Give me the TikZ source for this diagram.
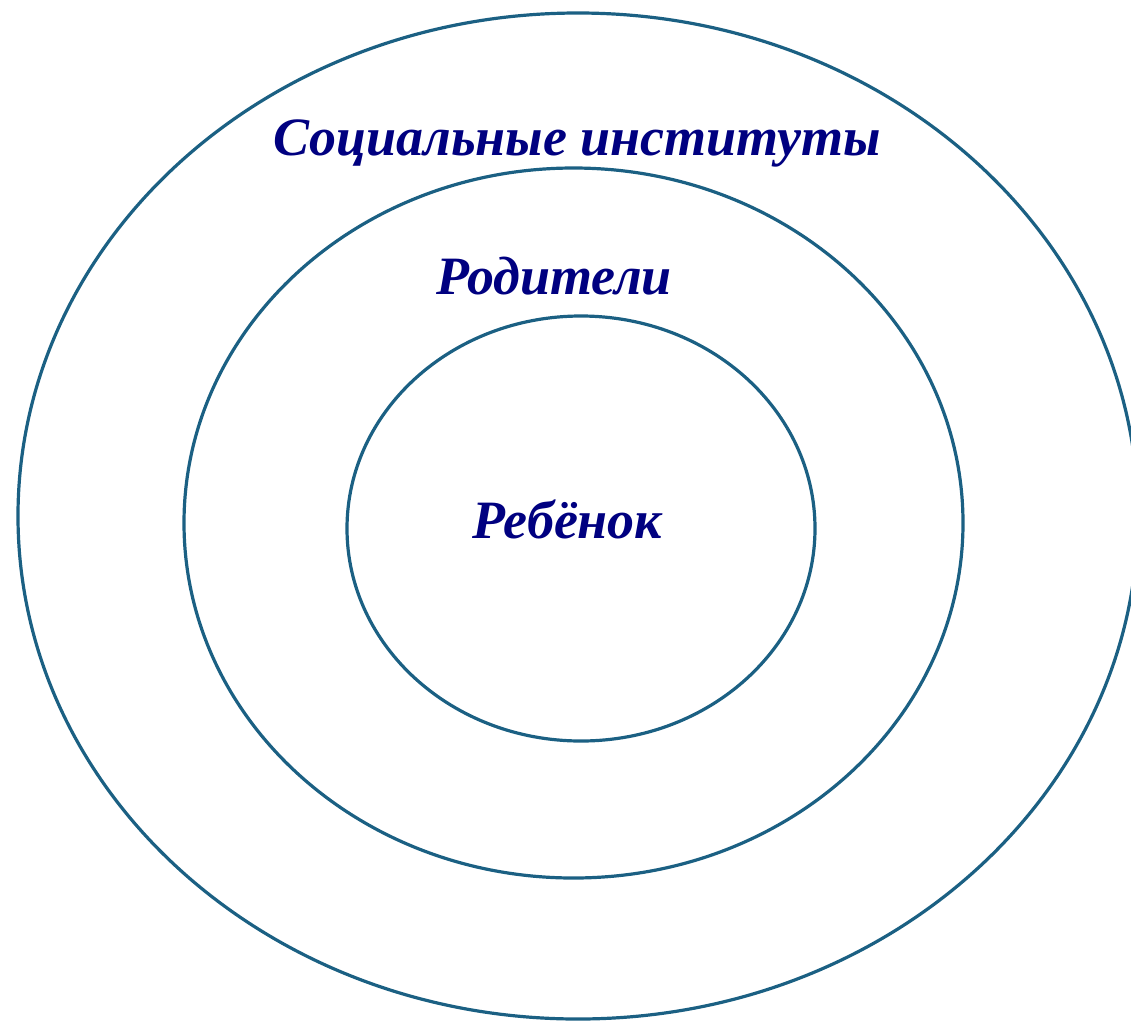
\documentclass[tikz,border=0pt]{standalone}
\usepackage{fontspec}
\setmainfont{Liberation Serif}
\definecolor{ring}{HTML}{1B6083}
\definecolor{txt}{HTML}{000080}
\begin{document}
\begin{tikzpicture}[x=1pt,y=-1pt,
  ringline/.style={draw=ring,line width=3.2pt},
  lbl/.style={text=txt,font=\bfseries\itshape\fontsize{54}{64}\selectfont,inner sep=0pt}]
\useasboundingbox (0,0) rectangle (1131,1021);
\begin{scope}
\clip (0,0) rectangle (1131,1021);
\draw[ringline] (578,516) ellipse [x radius=560, y radius=503];
\end{scope}
\draw[ringline] (573.5,523) ellipse [x radius=389.5, y radius=355];
\draw[ringline] (581,528.5) ellipse [x radius=234, y radius=212.5];
\node[lbl,anchor=base] (soc) at (577,155) {Социальные институты};
\node[lbl,anchor=base] (rod) at (554,294) {Родители};
\node[lbl,anchor=base] (reb) at (567.5,538) {Ребёнок};
\end{tikzpicture}
\end{document}
